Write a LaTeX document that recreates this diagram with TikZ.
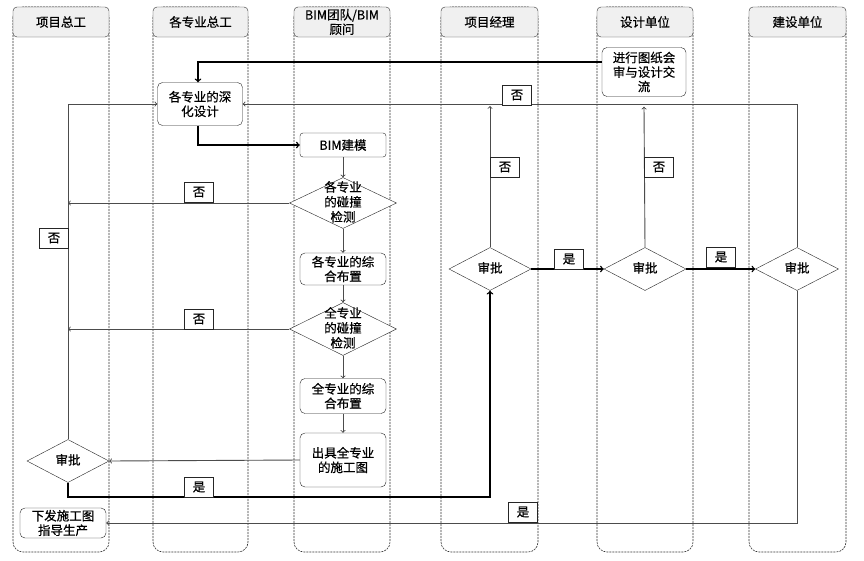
\documentclass[tikz,border=0pt]{standalone}
\usepackage{fontspec}
\setmainfont{Noto Sans CJK SC}[FakeBold=0.6]
\usetikzlibrary{shapes.geometric}
\tikzset{
  lane/.style={draw=black!80,line width=0.6pt,dash pattern=on 2pt off 1pt,rounded corners=10},
  lanehead/.style={draw=black!80,fill=gray!12,rounded corners=4,minimum height=30,inner sep=0,align=center},
  proc/.style={draw=black!85,fill=white,rounded corners=5,align=center,inner sep=1pt},
  judge/.style={draw=black!85,fill=white,diamond,inner sep=0},
  lb/.style={draw=black!85,fill=white,minimum width=29,minimum height=20,inner sep=0},
  thin/.style={->,draw=black!70,line width=0.9pt},
  bold/.style={->,draw=black,line width=1.4pt}
}
\newcommand{\dtxt}[1]{\smash{\raisebox{-3.5pt}{\begin{tabular}{@{}c@{}}#1\end{tabular}}}}
\begin{document}
\begin{tikzpicture}[x=1pt,y=-1pt,font=\fontsize{12.5}{14.5}\selectfont]
\useasboundingbox[fill=white] (0,0) rectangle (864,560);
\foreach \xa/\xb/\name in {13/109/项目总工,153/248/各专业总工,294/390/{BIM团队/BIM\\顾问},
  441/538/项目经理,597/693/设计单位,749/846/建设单位}{
  \draw[lane] (\xa,7) rectangle (\xb,552);
  \node[lanehead,minimum width=\xb-\xa] at ({(\xa+\xb)/2},22) {\name};
}
\node[proc,minimum width=85,minimum height=43] (deep) at (200,104) {各专业的深\\化设计};
\node[proc,minimum width=86,minimum height=24,rounded corners=3] (bim) at (343,145) {BIM建模};
\node[judge,minimum width=107,minimum height=51] (d1) at (343,203) {\dtxt{各专业\\的碰撞\\检测}};
\node[proc,minimum width=86,minimum height=32] (zh1) at (343,269) {各专业的综\\合布置};
\node[judge,minimum width=107,minimum height=53] (d2) at (343,329) {\dtxt{全专业\\的碰撞\\检测}};
\node[proc,minimum width=86,minimum height=35] (zh2) at (343,396) {全专业的综\\合布置};
\node[proc,minimum width=86,minimum height=54] (out) at (343,460) {出具全专业\\的施工图};
\node[judge,minimum width=82,minimum height=43] (a1) at (68,461) {\dtxt{审批}};
\node[proc,minimum width=86,minimum height=30] (issue) at (63,523) {下发施工图\\指导生产};
\node[proc,minimum width=84,minimum height=49] (review) at (644,72) {进行图纸会\\审与设计交\\流};
\node[judge,minimum width=82,minimum height=43] (a4) at (490,269) {\dtxt{审批}};
\node[judge,minimum width=82,minimum height=43] (a5) at (645,269) {\dtxt{审批}};
\node[judge,minimum width=83,minimum height=43] (a6) at (797,269) {\dtxt{审批}};
\coordinate (yes1) at (68,497);
\draw[bold] ([yshift=10pt]review.west) -| ([xshift=-2pt]deep.north);
\draw[thin] (a6.north) |- (deep.east);
\draw[bold] ([xshift=-2pt]deep.south) |- (bim.west);
\draw[thin] (bim) -- (d1);\draw[thin] (d1) -- (zh1);\draw[thin] (zh1) -- (d2);
\draw[thin] (d2) -- (zh2);\draw[thin] (zh2) -- (out);
\draw[thin] (d1.west) -- (d1.west -| a1);
\draw[thin] (d2.west) -- (d2.west -| a1);
\draw[thin] (out.west) -- (a1.east);
\draw[thin] (a1.north) |- (deep.west);
\draw[bold] (a1.south) -- (yes1) -| (a4.south);
\draw[thin,shorten >=2pt] (a4.north) -- (a4.north |- deep.east);
\draw[bold] (a4.east) -- (a5.west);
\draw[thin] (a5.north) -- ([yshift=-10pt]review.south);
\draw[bold] (a5.east) -- (a6.west);
\draw[thin] (a6.south) |- (issue.east);
\node[lb] (n1) at (517,95) {否};\node[lb] (n2) at (199,192) {否};
\node[lb] (n3) at (199,319) {否};\node[lb] (n4) at (54,238) {否};
\node[lb] (n5) at (505,167) {否};\node[lb] (n6) at (659,167) {否};
\node[lb] (y1) at (199,487) {是};\node[lb] (y2) at (569,259) {是};
\node[lb] (y3) at (721,257) {是};\node[lb] (y4) at (523,512) {是};
\end{tikzpicture}
\end{document}
